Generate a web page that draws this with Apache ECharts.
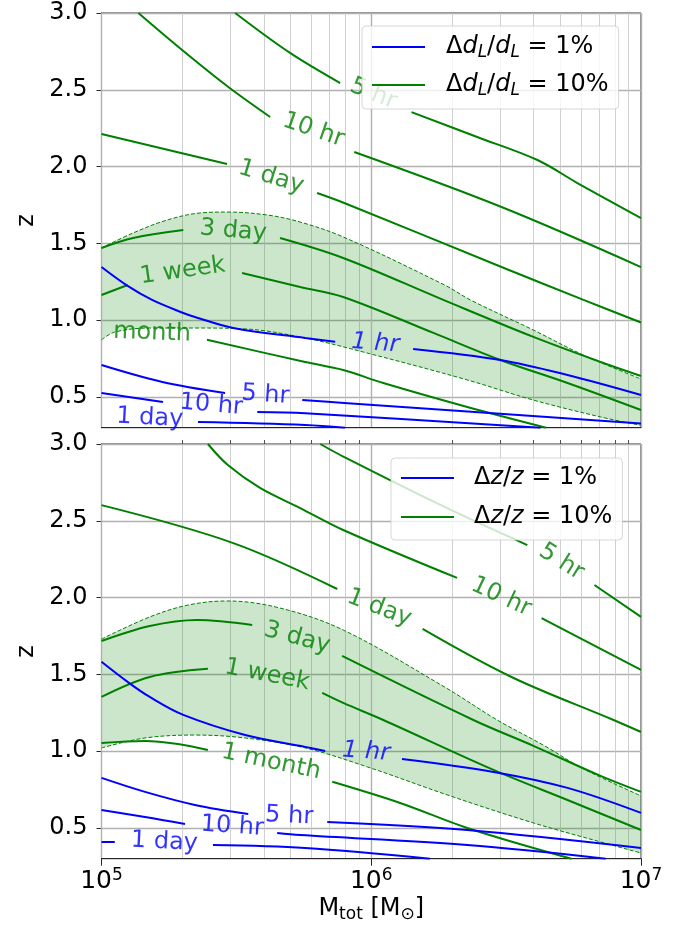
<!DOCTYPE html>
<html><head><meta charset="utf-8">
<script src="https://cdn.jsdelivr.net/npm/echarts@6/dist/echarts.min.js"></script>
<style>html,body{margin:0;padding:0;background:#fff}#c{width:688px;height:930px}</style>
</head><body><div id="c"></div>
<script>
// ---------- DATA (M_tot [Msun], z) ----------
const xMajorTicks = [1e5, 1e6, 1e7];
const xMinorTicks = [2e5,3e5,4e5,5e5,6e5,7e5,8e5,9e5,2e6,3e6,4e6,5e6,6e6,7e6,8e6,9e6];
const yTicks = [0.5, 1.0, 1.5, 2.0, 2.5, 3.0];

// Top panel: Δd_L/d_L = 10% (green)
const top_g_5hr = [[[3.13e5,3.0],[5.00e5,2.740],[7.67e5,2.544]],
                   [[1.41e6,2.355],[2.47e6,2.193],[4.13e6,2.043],[5.81e6,1.893],[1e7,1.665]]];
const top_g_10hr = [[[1.37e5,3.0],[1.95e5,2.772],[2.92e5,2.525],[4.22e5,2.323]],
                    [[8.65e5,2.095],[3.04e6,1.737],[1e7,1.346]]];
const top_g_1day = [[[1e5,2.212],[2.92e5,2.017]],
                    [[6.30e5,1.828],[7.94e5,1.763],[3.04e6,1.346],[6.12e6,1.132],[1e7,0.985]]];
const top_g_3day = [[[1e5,1.470],[1.31e5,1.535],[2.01e5,1.587]],
                    [[4.59e5,1.535],[7.87e5,1.405],[1.85e6,1.132],[3.99e6,0.891],[7.08e6,0.728],[1e7,0.637]]];
const top_g_1week = [[[1e5,1.164],[1.25e5,1.229]],
                     [[3.32e5,1.307],[5.45e5,1.216],[7.87e5,1.151],[1.70e6,0.917],[3.01e6,0.741],[5.34e6,0.591],[1e7,0.415]]];
const top_g_1month = [[[2.46e5,0.872],[5.69e5,0.728],[7.87e5,0.676],[1.108e6,0.591],[2.27e6,0.435],[4.45e6,0.30]]];
const top_band_upper = [[1e5,1.470],[1.31e5,1.568],[1.75e5,1.652],[2.32e5,1.698],[2.92e5,1.704],[4.11e5,1.685],[5.45e5,1.639],[7.87e5,1.542],[1.87e6,1.229],[2.33e6,1.132],[3.99e6,0.936],[6.12e6,0.773],[1e7,0.617]];
const top_band_lower = [[1e5,0.872],[1.12e5,0.923],[1.51e5,0.949],[2.22e5,0.949],[3.41e5,0.943],[5.69e5,0.884],[9.66e5,0.786],[2.27e6,0.611],[3.99e6,0.480],[7.08e6,0.370],[1e7,0.315]];
// Top panel: Δd_L/d_L = 1% (blue)
const top_b_1hr = [[[1e5,1.346],[1.25e5,1.223],[1.54e5,1.132],[2.01e5,1.047],[2.22e5,1.021],[3.08e5,0.949],[5.69e5,0.884],[7.35e5,0.859]],
                   [[1.43e6,0.813],[3.01e6,0.741],[5.34e6,0.643],[1e7,0.513]]];
const top_b_5hr = [[[1e5,0.708],[1.68e5,0.598],[2.87e5,0.526]],
                   [[5.55e5,0.480],[7.94e5,0.461],[1e7,0.327]]];
const top_b_10hr = [[[1e5,0.526],[1.69e5,0.467]],
                    [[3.78e5,0.402],[5.69e5,0.394],[4.24e6,0.30]]];
const top_b_1day = [[[2.28e5,0.337],[5.69e5,0.318],[8.0e5,0.30]]];
const top_labels = [['5 hr',1.017e6,2.473,'g'],['10 hr',6.10e5,2.238,'g'],['1 day',4.25e5,1.932,'g'],['3 day',3.08e5,1.581,'g'],
                    ['1 week',2.00e5,1.320,'g'],['month',1.54e5,0.917,'g'],['1 hr',1.035e6,0.848,'b'],['5 hr',4.05e5,0.513,'b'],
                    ['10 hr',2.55e5,0.448,'b'],['1 day',1.51e5,0.363,'b']];

// Bottom panel: Δz/z = 10% (green)
const bot_g_5hr = [[[6.47e5,3.0],[7.94e5,2.915],[1.87e6,2.590],[3.79e6,2.342]],
                   [[6.72e6,2.082],[1e7,1.874]]];
const bot_g_10hr = [[[2.48e5,3.0],[2.94e5,2.863],[3.87e5,2.714],[5.45e5,2.583],[7.87e5,2.440],[2.08e6,2.128]],
                    [[4.28e6,1.867],[1e7,1.529]]];
const bot_g_1day = [[[1e5,2.602],[3.08e5,2.355],[7.48e5,2.056]],
                    [[1.55e6,1.796],[3.31e6,1.483],[7.91e6,1.203],[1e7,1.125]]];
const bot_g_3day = [[[1e5,1.717],[1.51e5,1.815],[2.26e5,1.854],[3.62e5,1.822]],
                    [[7.80e5,1.620],[2.39e6,1.203],[3.99e6,1.035],[7.08e6,0.839],[1e7,0.735]]];
const bot_g_1week = [[[1e5,1.353],[1.51e5,1.483],[2.48e5,1.536]],
                     [[6.58e5,1.379],[7.87e5,1.314],[1.108e6,1.203],[2.84e6,0.878],[5.34e6,0.682],[1e7,0.487]]];
const bot_g_1month = [[[1e5,1.054],[1.45e5,1.067],[1.92e5,1.047],[2.48e5,1.008]],
                      [[7.17e5,0.801],[1.28e6,0.663],[2.27e6,0.500],[5.52e6,0.30]]];
const bot_band_upper = [[1e5,1.730],[1.51e5,1.874],[2.09e5,1.951],[2.92e5,1.978],[4.59e5,1.932],[7.87e5,1.789],[1.87e6,1.418],[2.93e6,1.203],[4.39e6,1.035],[6.12e6,0.885],[1e7,0.709]];
const bot_band_lower = [[1e5,1.021],[1.45e5,1.086],[2.22e5,1.105],[3.41e5,1.086],[5.69e5,1.021],[9.66e5,0.898],[1.96e6,0.709],[3.99e6,0.533],[7.08e6,0.409],[1e7,0.337]];
// Bottom panel: Δz/z = 1% (blue)
const bot_b_1hr = [[[1e5,1.582],[1.25e5,1.451],[1.51e5,1.353],[2.01e5,1.236],[3.41e5,1.105],[5.69e5,1.028],[6.75e5,1.001]],
                   [[1.30e6,0.949],[2.84e6,0.865],[5.34e6,0.761],[1e7,0.598]]];
const bot_b_5hr = [[[1e5,0.826],[1.45e5,0.735],[2.22e5,0.650],[3.50e5,0.591]],
                   [[6.87e5,0.539],[2.27e6,0.487],[1e7,0.370]]];
const bot_b_10hr = [[[1e5,0.617],[1.45e5,0.572],[2.04e5,0.526]],
                    [[4.48e5,0.467],[5.45e5,0.454],[2.27e6,0.389],[7.4e6,0.30]]];
const bot_b_1day = [[[1e5,0.409],[1.12e5,0.409]],
                    [[2.59e5,0.389],[5.69e5,0.370],[1.65e6,0.30]]];
const bot_labels = [['5 hr',5.07e6,2.232,'g'],['10 hr',3.03e6,2.004,'g'],['1 day',1.07e6,1.932,'g'],['3 day',5.31e5,1.737,'g'],
                    ['1 week',4.11e5,1.496,'g'],['1 month',4.25e5,0.930,'g'],['1 hr',9.57e5,0.995,'b'],['5 hr',4.96e5,0.578,'b'],
                    ['10 hr',3.05e5,0.51,'b'],['1 day',1.71e5,0.409,'b']];

// ---------- STYLE ----------
const topLabelRot = [-22,-19,-17,-5,8,-2,-4,-4,-5,-3];
const botLabelRot = [-32,-25,-21,-15,-11,-12,-4,-3,-4,-3];
const G = '#008000', B = '#0000ff', FONT = 'DejaVu Sans';
const GRID_L = 101.5, GRID_W = 539.5, GRID_H = 414.7;
const SMOOTH = 0.35;

// same smoothing scheme as the line series, used for the band outline
function smoothPath(pts, move) {
  let d = (move ? 'M' : 'L') + pts[0][0] + ',' + pts[0][1];
  const n = pts.length;
  let cp0 = pts[0];
  for (let i = 0; i < n - 1; i++) {
    const p1 = pts[i + 1];
    let cp1 = p1, nextCp0 = p1;
    if (i + 2 < n) {
      const p0 = pts[i], p2 = pts[i + 2];
      const vx = p2[0] - p0[0], vy = p2[1] - p0[1];
      const l0 = Math.hypot(p1[0] - p0[0], p1[1] - p0[1]);
      const l1 = Math.hypot(p2[0] - p1[0], p2[1] - p1[1]);
      const r = l1 / (l0 + l1);
      nextCp0 = [p1[0] + vx * SMOOTH * r, p1[1] + vy * SMOOTH * r];
      cp1 = [p1[0] - vx * SMOOTH * (1 - r), p1[1] - vy * SMOOTH * (1 - r)];
    }
    d += 'C' + cp0[0] + ',' + cp0[1] + ',' + cp1[0] + ',' + cp1[1] + ',' + p1[0] + ',' + p1[1];
    cp0 = nextCp0;
  }
  return d;
}

const series = [];
function addContour(segs, color, panel, dashed) {
  segs.forEach(seg => series.push({
    type: 'line', xAxisIndex: panel * 2, yAxisIndex: panel, data: seg, smooth: SMOOTH,
    symbol: 'none', showSymbol: false, clip: true, silent: true, animation: false, z: 3,
    lineStyle: { color: color, width: dashed ? 1 : 2, type: dashed ? [4, 2] : 'solid' }
  }));
}
function addBand(up, lo, panel) {
  const all = up.concat(lo);
  series.push({
    type: 'custom', xAxisIndex: panel * 2, yAxisIndex: panel, data: all, clip: true,
    silent: true, animation: false, z: 1, encode: { x: 0, y: 1 },
    renderItem: (params, api) => {
      if (params.dataIndex !== 0) return null;
      const pu = up.map(p => api.coord(p));
      const pl = lo.slice().reverse().map(p => api.coord(p));
      const d = smoothPath(pu, true) + smoothPath(pl, false) + 'Z';
      return { type: 'path', shape: { pathData: d }, style: { fill: 'rgba(0,128,0,0.2)' } };
    }
  });
  addContour([up, lo], G, panel, true);
}
function addLabels(list, rots, panel) {
  series.push({
    type: 'scatter', xAxisIndex: panel * 2, yAxisIndex: panel, symbolSize: 0,
    silent: true, animation: false, z: 5,
    data: list.map((l, i) => ({
      value: [l[1], l[2]],
      label: { formatter: l[0], rotate: rots[i], color: l[3] === 'g' ? G : B,
               fontStyle: l[0] === '1 hr' ? 'italic' : 'normal' }
    })),
    label: { show: true, position: 'inside', fontSize: 24, fontFamily: FONT,
             align: 'center', verticalAlign: 'middle' }
  });
}

addBand(top_band_upper, top_band_lower, 0);
[top_g_5hr, top_g_10hr, top_g_1day, top_g_3day, top_g_1week, top_g_1month].forEach(c => addContour(c, G, 0));
[top_b_1hr, top_b_5hr, top_b_10hr, top_b_1day].forEach(c => addContour(c, B, 0));
addLabels(top_labels, topLabelRot, 0);

addBand(bot_band_upper, bot_band_lower, 1);
[bot_g_5hr, bot_g_10hr, bot_g_1day, bot_g_3day, bot_g_1week, bot_g_1month].forEach(c => addContour(c, G, 1));
[bot_b_1hr, bot_b_5hr, bot_b_10hr, bot_b_1day].forEach(c => addContour(c, B, 1));
addLabels(bot_labels, botLabelRot, 1);

// legend carrier series
const legendNames = [['dl1', B, 0], ['dl10', G, 0], ['dz1', B, 1], ['dz10', G, 1]];
legendNames.forEach(n => series.push({
  type: 'line', name: n[0], xAxisIndex: n[2] * 2, yAxisIndex: n[2], data: [],
  symbol: 'none', lineStyle: { color: n[1], width: 2 }, itemStyle: { color: n[1] }
}));
const legendText = {
  dl1: 'Δ{i|d}{s|L}/{i|d}{s|L} = 1%', dl10: 'Δ{i|d}{s|L}/{i|d}{s|L} = 10%',
  dz1: 'Δ{i|z}/{i|z} = 1%', dz10: 'Δ{i|z}/{i|z} = 10%'
};
const legendRich = {
  i: { fontStyle: 'italic', fontSize: 24, fontFamily: FONT, lineHeight: 28, color: '#000' },
  s: { fontStyle: 'italic', fontSize: 17, fontFamily: FONT, lineHeight: 12, verticalAlign: 'bottom', color: '#000' }
};
function makeLegend(names, left, top, pad, gap, textPad) {
  return {
    data: names.map(n => ({ name: n, icon: 'rect', itemStyle: { color: n.endsWith('10') ? G : B } })),
    orient: 'vertical', left: left, top: top, padding: pad, itemGap: gap,
    itemWidth: 53, itemHeight: 2, selectedMode: false,
    backgroundColor: 'rgba(255,255,255,0.8)', borderColor: 'rgba(204,204,204,0.8)', borderWidth: 1, borderRadius: 4,
    formatter: n => legendText[n],
    textStyle: { fontSize: 24, fontFamily: FONT, color: '#000', lineHeight: 28, padding: [0, 0, 0, textPad], rich: legendRich },
    z: 10
  };
}

function xAxes(grid, showLabels) {
  return [{
    gridIndex: grid, type: 'log', logBase: 10, min: 1e5, max: 1e7,
    axisLine: { show: true, onZero: false, lineStyle: { color: '#262626', width: 1 } },
    axisTick: { show: showLabels, length: 7, customValues: xMajorTicks, lineStyle: { color: '#262626', width: 1 } },
    axisLabel: { show: showLabels, customValues: xMajorTicks, margin: 8,
      formatter: v => '{b|10}{p|' + Math.round(Math.log10(v)) + '}',
      rich: { b: { fontSize: 25, fontFamily: FONT, color: '#000', lineHeight: 30 },
              p: { fontSize: 17, fontFamily: FONT, color: '#000', lineHeight: 17, verticalAlign: 'top' } } },
    splitLine: { show: true, lineStyle: { color: '#b0b0b0', width: 1.4 } },
    name: showLabels ? 'M{s|tot} [M{s|⊙}]' : '', nameLocation: 'middle', nameGap: 36,
    nameTextStyle: { fontSize: 24, fontFamily: FONT, color: '#000', lineHeight: 28,
      rich: { s: { fontSize: 17, fontFamily: FONT, color: '#000', lineHeight: 12, verticalAlign: 'bottom' } } },
    z: 2
  }, {
    gridIndex: grid, type: 'log', logBase: 10, min: 1e5, max: 1e7,
    axisLine: { show: false },
    axisTick: { show: showLabels, length: 4, customValues: xMinorTicks, lineStyle: { color: '#262626', width: 0.8 } },
    axisLabel: { show: false },
    splitLine: { show: true, lineStyle: { color: '#c4c4c4', width: 0.8 } },
    z: 1
  }];
}
function yAxis(grid) {
  return {
    gridIndex: grid, type: 'value', min: 0.3, max: 3.0,
    axisLine: { show: true, onZero: false, lineStyle: { color: '#262626', width: 1 } },
    axisTick: { show: true, length: 5, customValues: yTicks, lineStyle: { color: '#262626', width: 1 } },
    axisLabel: { customValues: yTicks, formatter: v => v.toFixed(1), fontSize: 24, fontFamily: FONT, color: '#000', margin: 14 },
    splitLine: { show: true, lineStyle: { color: '#b0b0b0', width: 1.4 } },
    name: 'z', nameLocation: 'middle', nameGap: 63,
    nameTextStyle: { fontSize: 24, fontFamily: FONT, color: '#000' }
  };
}

const option = {
  backgroundColor: '#fff', animation: false,
  grid: [
    { left: GRID_L, top: 13, width: GRID_W, height: GRID_H, show: true, borderColor: '#262626', borderWidth: 1, containLabel: false },
    { left: GRID_L, top: 444, width: GRID_W, height: GRID_H, show: true, borderColor: '#262626', borderWidth: 1, containLabel: false }
  ],
  xAxis: xAxes(0, false).concat(xAxes(1, true)),
  yAxis: [yAxis(0), yAxis(1)],
  legend: [
    makeLegend(['dl1', 'dl10'], 362, 26, [7, 10, 10, 10], 10, 16),
    makeLegend(['dz1', 'dz10'], 391, 458, [6, 10, 9, 10], 11, 15)
  ],
  series: series
};
const chart = echarts.init(document.getElementById('c'), null, { renderer: 'canvas' });
chart.setOption(option);
</script></body></html>
